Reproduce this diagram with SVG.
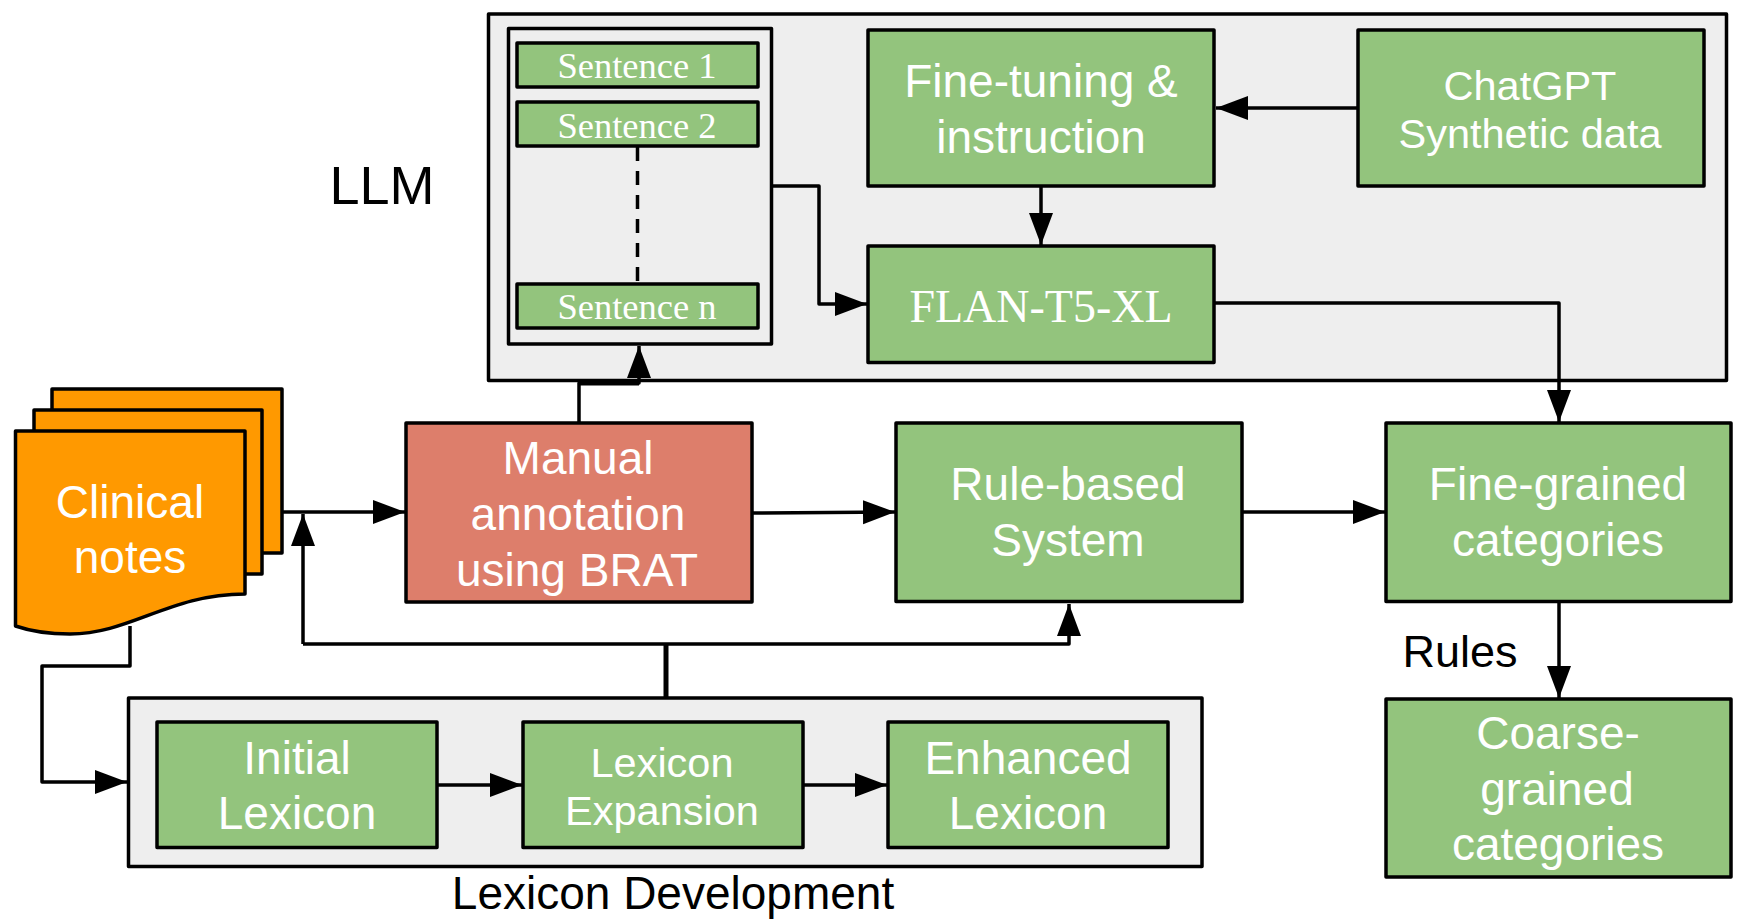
<svg xmlns="http://www.w3.org/2000/svg" width="1744" height="924" viewBox="0 0 1744 924">
<style>
.b{fill:#93c47d;stroke:#000;stroke-width:3.5;stroke-linejoin:round}
.g{fill:#eeeeee;stroke:#000;stroke-width:3.5;stroke-linejoin:round}
.o{fill:#ff9900;stroke:#000;stroke-width:3.5;stroke-linejoin:round}
.r{fill:#dd7e6b;stroke:#000;stroke-width:3.5;stroke-linejoin:round}
.t{font-family:"Liberation Sans",Arial,sans-serif;font-size:46px;fill:#fff;text-anchor:middle}
.s{font-family:"Liberation Serif","Times New Roman",serif;fill:#fff;text-anchor:middle}
.k{font-family:"Liberation Sans",Arial,sans-serif;fill:#000;text-anchor:middle}
.c{fill:none;stroke:#000;stroke-width:3.5;stroke-linejoin:round}
</style>
<defs><marker id="a" markerUnits="userSpaceOnUse" markerWidth="34" markerHeight="26" refX="32" refY="12" orient="auto"><path d="M0 0L32 12L0 24Z" fill="#000"/></marker></defs>
<rect width="1744" height="924" fill="#fff"/>
<g id="llm-group"><rect class="g" x="488.500" y="14" width="1238" height="366.500"/><text class="k" x="382" y="204" font-size="54">LLM</text></g>
<g id="sentences"><rect class="g" x="508.500" y="28.500" width="263" height="315.500"/></g>
<g id="lexicon-group"><rect class="g" x="128.500" y="698" width="1073.500" height="168.500"/><text class="k" x="673" y="909" font-size="46">Lexicon Development</text></g>
<g id="connectors">
<path class="c" d="M282 512H405" marker-end="url(#a)"/>
<path class="c" d="M130 626V666H42V782H127" marker-end="url(#a)"/>
<path class="c" d="M303 644V514" marker-end="url(#a)"/>
<path class="c" d="M303 644H1069V604" marker-end="url(#a)"/>
<path class="c" style="stroke-width:5" d="M666 644V697"/>
<path class="c" d="M579 422V383H639V346" marker-end="url(#a)"/>
<path class="c" style="stroke-width:5" d="M579 383H639"/>
<path class="c" d="M772 186H819V304H867" marker-end="url(#a)"/>
<path class="c" d="M1357 108H1216" marker-end="url(#a)"/>
<path class="c" d="M1041 186V245" marker-end="url(#a)"/>
<path class="c" d="M1214 303H1559V422" marker-end="url(#a)"/>
<path class="c" d="M752 513L895 512" marker-end="url(#a)"/>
<path class="c" d="M1242 512H1385" marker-end="url(#a)"/>
<path class="c" d="M1559 602V698" marker-end="url(#a)"/>
<path class="c" d="M437 785H522" marker-end="url(#a)"/>
<path class="c" d="M803 785H887" marker-end="url(#a)"/>
<path class="c" stroke-dasharray="14 10" d="M637.500 147V283"/>
</g>
<g id="clinical-notes">
<rect class="o" x="52" y="389" width="230" height="164"/>
<rect class="o" x="34" y="410" width="228" height="164"/>
<path class="o" d="M15.500 431H245V594C170 594 130 634 70 634C50 634 30 631 15.500 626Z"/>
<text class="t" x="130" y="518">Clinical</text><text class="t" x="130" y="573">notes</text>
</g>
<g id="sentence-1"><rect class="b" x="517" y="43" width="241" height="44"/><text class="s" x="637" y="78" font-size="36.500">Sentence 1</text></g>
<g id="sentence-2"><rect class="b" x="517" y="102" width="241" height="44"/><text class="s" x="637" y="138" font-size="36.500">Sentence 2</text></g>
<g id="sentence-n"><rect class="b" x="517" y="284" width="241" height="44"/><text class="s" x="637" y="319" font-size="36.500">Sentence n</text></g>
<g id="fine-tuning"><rect class="b" x="868" y="30" width="346" height="156"/><text class="t" x="1041" y="97">Fine-tuning &amp;</text><text class="t" x="1041" y="153">instruction</text></g>
<g id="chatgpt"><rect class="b" x="1358" y="30" width="346" height="156"/><text class="t" x="1530" y="100" style="font-size:41.500px">ChatGPT</text><text class="t" x="1530" y="148" style="font-size:41.500px">Synthetic data</text></g>
<g id="flan"><rect class="b" x="868" y="246" width="346" height="116.500"/><text class="s" x="1041" y="322" font-size="46">FLAN-T5-XL</text></g>
<g id="manual"><rect class="r" x="406" y="423" width="346" height="179"/><text class="t" x="578" y="474">Manual</text><text class="t" x="578" y="530">annotation</text><text class="t" x="577" y="586">using BRAT</text></g>
<g id="rule-based"><rect class="b" x="896" y="423" width="346" height="178.500"/><text class="t" x="1068" y="500">Rule-based</text><text class="t" x="1068" y="556">System</text></g>
<g id="fine-grained"><rect class="b" x="1386" y="423" width="345" height="178.500"/><text class="t" x="1558" y="500">Fine-grained</text><text class="t" x="1558" y="556">categories</text></g>
<g id="coarse-grained"><rect class="b" x="1386" y="699" width="345" height="178"/><text class="t" x="1558" y="749">Coarse-</text><text class="t" x="1557" y="805">grained</text><text class="t" x="1558" y="860">categories</text></g>
<g id="rules-label"><text class="k" x="1460" y="667" font-size="45">Rules</text></g>
<g id="initial"><rect class="b" x="157" y="722" width="280" height="125.500"/><text class="t" x="297" y="774">Initial</text><text class="t" x="297" y="829">Lexicon</text></g>
<g id="expansion"><rect class="b" x="523" y="722" width="280" height="125.500"/><text class="t" x="662" y="777" style="font-size:41.500px">Lexicon</text><text class="t" x="662" y="825" style="font-size:41.500px">Expansion</text></g>
<g id="enhanced"><rect class="b" x="888" y="722" width="280" height="125.500"/><text class="t" x="1028" y="774">Enhanced</text><text class="t" x="1028" y="829">Lexicon</text></g>
</svg>
